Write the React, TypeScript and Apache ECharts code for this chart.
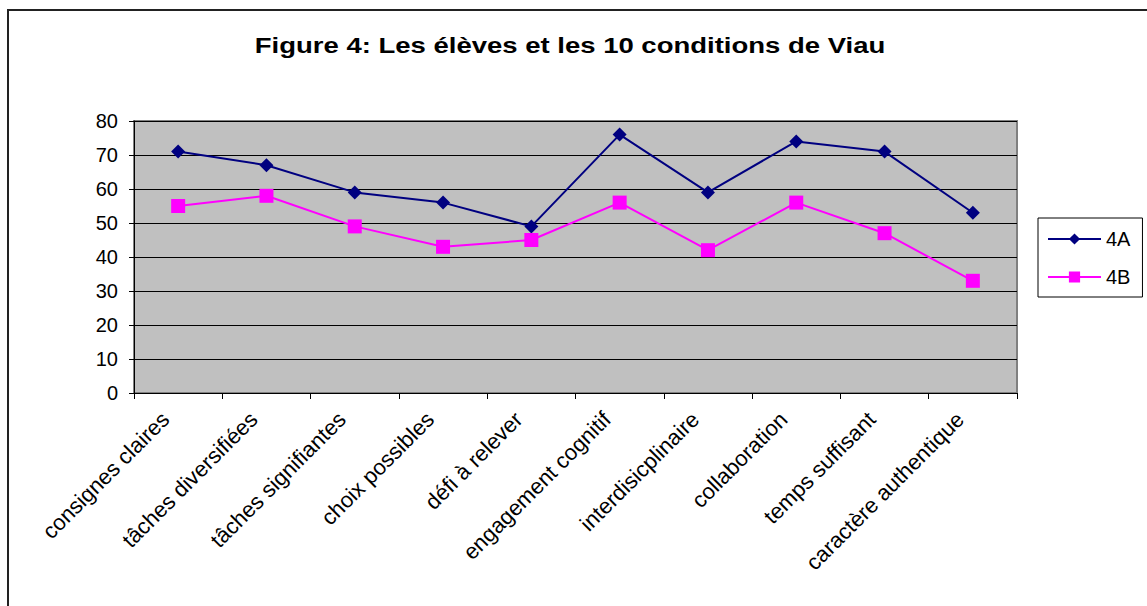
import React, { useEffect, useRef } from "react";
import * as echarts from "echarts";

const categories = [
  "consignes claires",
  "tâches diversifiées",
  "tâches signifiantes",
  "choix possibles",
  "défi à relever",
  "engagement cognitif",
  "interdisicplinaire",
  "collaboration",
  "temps suffisant",
  "caractère authentique",
];
const series4A = [71, 67, 59, 56, 49, 76, 59, 74, 71, 53];
const series4B = [55, 58, 49, 43, 45, 56, 42, 56, 47, 33];
const yTicks = { min: 0, max: 80, interval: 10 };
const titleText = "Figure 4: Les élèves et les 10 conditions de Viau";

const FONT = "'Liberation Sans', Arial, sans-serif";

export default function App() {
  const ref = useRef<HTMLDivElement>(null);
  useEffect(() => {
    if (!ref.current) return;
    const chart = echarts.init(ref.current, undefined, { renderer: "svg" });
    chart.setOption({
      animation: false,
      backgroundColor: "#ffffff",
      textStyle: { fontFamily: FONT },
      graphic: [
        {
          type: "rect",
          shape: { x: 8, y: 10, width: 1300, height: 800 },
          style: { fill: "none", stroke: "#222", lineWidth: 2 },
          silent: true,
          z: -10,
        },
        {
          type: "text",
          x: 570,
          y: 45,
          scaleX: 1.25,
          style: {
            text: titleText,
            font: "bold 22px 'Liberation Sans', Arial, sans-serif",
            textAlign: "center",
            textVerticalAlign: "middle",
            fill: "#000",
          },
        },
      ],
      legend: {
        orient: "vertical",
        left: 1038,
        top: 218,
        padding: [11, 12, 10, 9],
        itemWidth: 53,
        itemHeight: 14,
        itemGap: 18,
        borderColor: "#000",
        borderWidth: 1,
        backgroundColor: "#fff",
        textStyle: { fontFamily: FONT, fontSize: 20, color: "#000" },
        data: ["4A", "4B"],
      },
      grid: {
        left: 134,
        top: 121,
        width: 883,
        height: 272,
        show: true,
        backgroundColor: "#c0c0c0",
        borderColor: "#808080",
        borderWidth: 2,
      },
      xAxis: {
        type: "category",
        data: categories,
        boundaryGap: true,
        axisLine: { show: true, lineStyle: { color: "#000", width: 1 } },
        axisTick: { show: true, length: 6, alignWithLabel: false, lineStyle: { color: "#000" } },
        axisLabel: {
          rotate: 45,
          interval: 0,
          margin: 10,
          padding: [0, 18, 0, 0],
          fontFamily: FONT,
          fontSize: 22,
          color: "#000",
        },
        splitLine: { show: false },
      },
      yAxis: {
        type: "value",
        min: yTicks.min,
        max: yTicks.max,
        interval: yTicks.interval,
        axisLine: { show: true, lineStyle: { color: "#000", width: 1 } },
        axisTick: { show: true, length: 5, lineStyle: { color: "#000" } },
        axisLabel: { margin: 16, fontFamily: FONT, fontSize: 20, color: "#000" },
        splitLine: { show: true, lineStyle: { color: "#000", width: 1 } },
      },
      series: [
        {
          name: "4A",
          type: "line",
          data: series4A,
          symbol: "diamond",
          symbolSize: 14,
          lineStyle: { color: "#000080", width: 2 },
          itemStyle: { color: "#000080" },
        },
        {
          name: "4B",
          type: "line",
          data: series4B,
          symbol: "rect",
          symbolSize: 14,
          lineStyle: { color: "#ff00ff", width: 2 },
          itemStyle: { color: "#ff00ff" },
        },
      ],
    });
    return () => chart.dispose();
  }, []);
  return (
    <div
      ref={ref}
      style={{ position: "fixed", left: 0, top: 0, width: 1147, height: 606 }}
    />
  );
}
